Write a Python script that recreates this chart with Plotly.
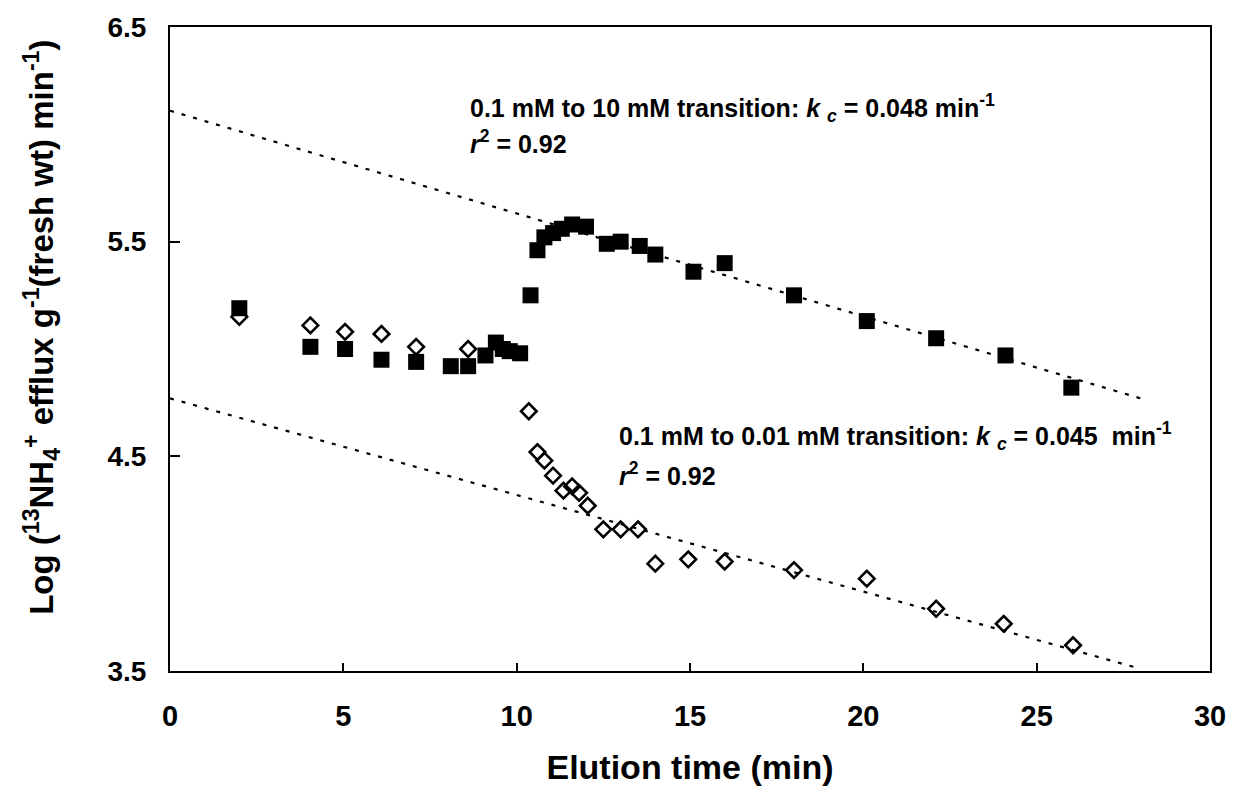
import plotly.graph_objects as go

# Elution series after the 0.1 mM -> 10 mM transition (filled squares)
t_10mM = [2.0, 4.05, 5.05, 6.1, 7.1, 8.1, 8.6, 9.1, 9.4, 9.6, 9.8, 10.1, 10.4,
          10.6, 10.8, 11.05, 11.3, 11.6, 12.0, 12.6, 13.0, 13.55, 14.0, 15.1,
          16.0, 18.0, 20.1, 22.1, 24.1, 26.0]
log_10mM = [5.19, 5.01, 5.00, 4.95, 4.94, 4.92, 4.92, 4.97, 5.03, 5.00, 4.99, 4.98, 5.25,
            5.46, 5.52, 5.54, 5.56, 5.58, 5.57, 5.49, 5.50, 5.48, 5.44, 5.36,
            5.40, 5.25, 5.13, 5.05, 4.97, 4.82]

# Elution series after the 0.1 mM -> 0.01 mM transition (open diamonds)
t_001mM = [2.0, 4.05, 5.05, 6.1, 7.1, 8.6, 10.35, 10.6, 10.8, 11.05, 11.35, 11.6,
           11.8, 12.05, 12.5, 13.0, 13.5, 14.0, 14.95, 16.0, 18.0, 20.1, 22.1,
           24.05, 26.05]
log_001mM = [5.15, 5.11, 5.08, 5.07, 5.01, 5.00, 4.71, 4.52, 4.48, 4.41, 4.34, 4.36,
             4.33, 4.27, 4.16, 4.16, 4.16, 4.00, 4.02, 4.01, 3.97, 3.93, 3.79,
             3.72, 3.62]

# Regression lines (end points)
fit_10mM_x = [0, 28]
fit_10mM_y = [6.11, 4.77]
fit_001mM_x = [0, 28]
fit_001mM_y = [4.77, 3.51]

x_ticks = [0, 5, 10, 15, 20, 25, 30]
y_ticks = [3.5, 4.5, 5.5, 6.5]

FONT = "Liberation Sans, Arial, sans-serif"

fig = go.Figure()

for fx, fy in ((fit_10mM_x, fit_10mM_y), (fit_001mM_x, fit_001mM_y)):
    fig.add_trace(go.Scatter(x=fx, y=fy, mode="lines",
                             line=dict(color="black", width=2.2, dash="4px,8px"),
                             showlegend=False, hoverinfo="skip"))

fig.add_trace(go.Scatter(x=t_001mM, y=log_001mM, mode="markers",
                         marker=dict(symbol="diamond-open", size=12, color="black",
                                     line=dict(color="black", width=2.6)),
                         showlegend=False))
fig.add_trace(go.Scatter(x=t_10mM, y=log_10mM, mode="markers",
                         marker=dict(symbol="square", size=16, color="black"),
                         showlegend=False))

ann_font = dict(family=FONT, size=25, color="black")
notes = [
    (0.2865, 0.874, "<b>0.1 mM to 10 mM transition: <i>k</i> <sub><i>c</i></sub> = 0.048 min<sup>-1</sup></b>"),
    (0.2865, 0.822, "<b><i>r</i><sup>2</sup> = 0.92</b>"),
    (0.4298, 0.365, "<b>0.1 mM to 0.01 mM transition: <i>k</i> <sub><i>c</i></sub> = 0.045  min<sup>-1</sup></b>"),
    (0.4298, 0.306, "<b><i>r</i><sup>2</sup> = 0.92</b>"),
]
for nx, ny, txt in notes:
    fig.add_annotation(xref="paper", yref="paper", x=nx, y=ny,
                       xanchor="left", yanchor="middle", showarrow=False,
                       text=txt, font=ann_font)

# Y axis title
fig.add_annotation(xref="paper", yref="paper", x=-0.123, y=0.533,
                   xanchor="center", yanchor="middle", showarrow=False, textangle=-90,
                   text="<b>Log (<sup>13</sup>NH<sub>4</sub><sup>+</sup> efflux g<sup>-1</sup>(fresh wt) min<sup>-1</sup>)</b>",
                   font=dict(family=FONT, size=33, color="black"))

fig.update_layout(
    width=1240, height=792,
    margin=dict(l=170, r=30, t=25, b=120),
    paper_bgcolor="white", plot_bgcolor="white",
    font=dict(family=FONT, color="black"),
)

fig.update_xaxes(
    range=[0, 30], tickvals=x_ticks, ticktext=[f"<b>{v}</b>" for v in x_ticks],
    ticks="inside", ticklen=8, tickwidth=1.5, tickcolor="black",
    showline=True, linecolor="black", linewidth=2, mirror=True,
    showgrid=False, zeroline=False,
    tickfont=dict(family=FONT, size=29, color="black"),
    ticklabelstandoff=18,
    title=dict(text="<b>Elution time (min)</b>", standoff=24,
               font=dict(family=FONT, size=34, color="black")),
)
fig.update_yaxes(
    range=[3.5, 6.5], tickvals=y_ticks, ticktext=[f"<b>{v}</b>" for v in y_ticks],
    ticks="inside", ticklen=10, tickwidth=1.5, tickcolor="black",
    showline=True, linecolor="black", linewidth=2, mirror=True,
    showgrid=False, zeroline=False,
    tickfont=dict(family=FONT, size=28, color="black"),
    ticklabelstandoff=16,
)

fig.write_html("out.html")
